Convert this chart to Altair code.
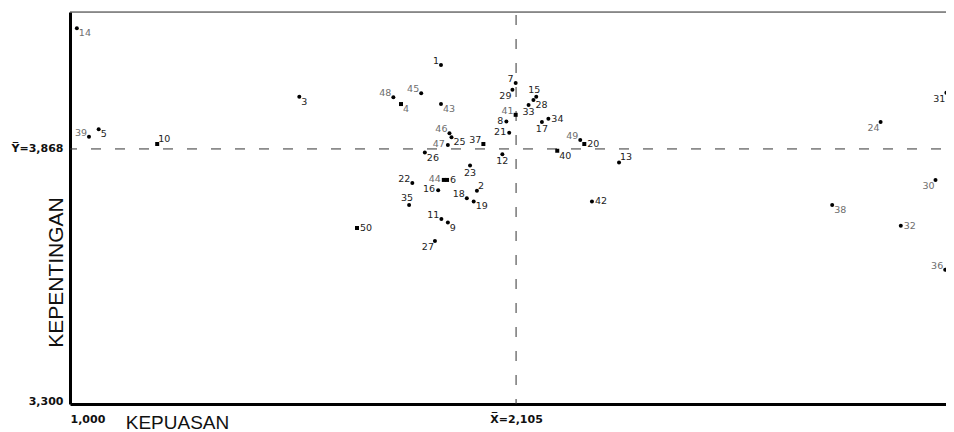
import altair as alt
import pandas as pd

# ---- data ----
IDS = list(range(1, 51))
KEPUASAN = [1.919, 2.008, 1.568, 1.820, 1.071, 1.934, 2.104, 2.081, 1.936, 1.216,
            1.920, 2.071, 2.360, 1.017, 2.155, 1.912, 2.169, 1.983, 2.000, 2.274,
            2.088, 1.848, 1.991, 3.008, 1.945, 1.879, 1.904, 2.148, 2.096, 3.144,
            3.171, 3.058, 2.136, 2.185, 1.840, 3.168, 2.024, 2.888, 1.047, 2.207,
            2.104, 2.293, 1.919, 1.926, 1.870, 1.940, 1.936, 1.801, 2.264, 1.711]
KEPENTINGAN = [4.055, 3.775, 3.984, 3.968, 3.912, 3.799, 4.015, 3.929, 3.704, 3.879,
               3.712, 3.856, 3.838, 4.137, 3.984, 3.776, 3.928, 3.758, 3.751, 3.879,
               3.904, 3.792, 3.831, 3.928, 3.894, 3.860, 3.663, 3.977, 4.000, 3.799,
               3.993, 3.697, 3.966, 3.935, 3.743, 3.599, 3.879, 3.743, 3.895, 3.864,
               3.944, 3.751, 3.968, 3.799, 3.992, 3.903, 3.877, 3.983, 3.888, 3.692]
LABEL_POS = ["tl", "tr", "br", "br", "br", "r", "tl", "l", "br", "tr",
             "tl", "b", "tr", "br", "t", "l", "b", "tl", "br", "r",
             "l", "tl", "b", "bl", "br", "br", "bl", "br", "bl", "bl",
             "bl", "r", "b", "r", "t", "tl", "tl", "br", "tl", "br",
             "tl", "r", "br", "l", "tl", "tl", "l", "tl", "tl", "r"]
SQUARE_IDS = [4, 6, 10, 20, 37, 40, 41, 44, 50]
GRAY_IDS = [4, 14, 24, 30, 32, 36, 38, 39, 41, 43, 44, 45, 46, 47, 48, 49]

MEAN_X = 2.105
MEAN_Y = 3.868
X_MIN, X_MAX = 1.0, 3.17
Y_MIN, Y_MAX = 3.3, 4.173

df = pd.DataFrame({
    "id": IDS,
    "kepuasan": KEPUASAN,
    "kepentingan": KEPENTINGAN,
    "pos": LABEL_POS,
})
df["marker"] = ["s" if i in SQUARE_IDS else "c" for i in IDS]
df["tone"] = ["g" if i in GRAY_IDS else "d" for i in IDS]

xs = alt.Scale(domain=[X_MIN, X_MAX], nice=False, zero=False)
ys = alt.Scale(domain=[Y_MIN, Y_MAX], nice=False, zero=False)

fmt = "replace(format(datum.value, '.3f'), '.', ',')"

x_axis = alt.Axis(
    values=[X_MIN, MEAN_X],
    labelExpr=f"datum.value < 1.5 ? {fmt} : 'X\u0305=' + {fmt}",
    labelAlign={"condition": {"test": "datum.value < 1.5", "value": "left"}, "value": "center"},
    labelBaseline="top",
    labelPadding=9,
    ticks=False, tickSize=0, grid=False,
    domainColor="black", domainWidth=3,
    labelFont="DejaVu Sans", labelFontWeight="bold", labelFontSize=11, labelColor="#111",
    title="KEPUASAN", titleFont="Liberation Sans", titleFontWeight="normal",
    titleFontSize=19, titleColor="#111", titleAlign="center", titleBaseline="alphabetic",
    titleX=107, titleY=24,
)
y_axis = alt.Axis(
    values=[Y_MIN, MEAN_Y],
    labelExpr=f"datum.value < 3.5 ? {fmt} : 'Y\u0305=' + {fmt}",
    labelBaseline={"condition": {"test": "datum.value < 3.5", "value": "alphabetic"}, "value": "middle"},
    labelPadding=7,
    ticks=False, tickSize=0, grid=False,
    domainColor="black", domainWidth=3,
    labelFont="DejaVu Sans", labelFontWeight="bold", labelFontSize=11, labelColor="#111",
    title="KEPENTINGAN", titleFont="Liberation Sans", titleFontWeight="normal",
    titleFontSize=21, titleColor="#111", titleAlign="center", titleBaseline="alphabetic",
    titleAngle=270, titleX=-8, titleY=260,
)

X = alt.X("kepuasan:Q", scale=xs, axis=x_axis)
Y = alt.Y("kepentingan:Q", scale=ys, axis=y_axis)

base = alt.Chart(df).encode(x=X, y=Y)

points = base.mark_point(filled=True, size=16, opacity=1, color="black").encode(
    shape=alt.Shape("marker:N", scale=alt.Scale(domain=["c", "s"], range=["circle", "square"]), legend=None)
)

PLACEMENTS = {
    "r": dict(align="left", baseline="middle", dx=3, dy=0),
    "l": dict(align="right", baseline="middle", dx=-3, dy=-1),
    "tl": dict(align="right", baseline="middle", dx=-2, dy=-4),
    "tr": dict(align="left", baseline="middle", dx=1, dy=-5),
    "bl": dict(align="right", baseline="middle", dx=-1, dy=6),
    "br": dict(align="left", baseline="middle", dx=2, dy=5),
    "t": dict(align="center", baseline="middle", dx=-2, dy=-7),
    "b": dict(align="center", baseline="middle", dx=0, dy=7),
}
tone = alt.Color("tone:N", scale=alt.Scale(domain=["d", "g"], range=["#222222", "#6e6e6e"]), legend=None)
texts = [
    base.transform_filter(alt.datum.pos == p)
    .mark_text(font="DejaVu Sans", fontSize=9.5, **opts)
    .encode(text="id:N", color=tone)
    for p, opts in PLACEMENTS.items()
]

vline = alt.Chart(pd.DataFrame({"kepuasan": [MEAN_X]})).mark_rule(
    color="#333", strokeWidth=1, strokeDash=[10, 14], strokeDashOffset=21
).encode(x=X)
hline = alt.Chart(pd.DataFrame({"kepentingan": [MEAN_Y]})).mark_rule(
    color="#333", strokeWidth=1, strokeDash=[10, 14], strokeDashOffset=19
).encode(y=Y)
top = alt.Chart(pd.DataFrame({"kepentingan": [Y_MAX]})).mark_rule(
    color="#333", strokeWidth=1
).encode(y=Y)

chart = alt.layer(top, vline, hline, points, *texts).properties(
    width=876, height=392,
    autosize=alt.AutoSizeParams(type="none"),
    padding={"left": 62, "top": 4, "right": 0, "bottom": 28},
).configure_view(stroke=None).configure(background="white")

chart.save("out.html", embed_options={"renderer": "svg", "actions": False})
